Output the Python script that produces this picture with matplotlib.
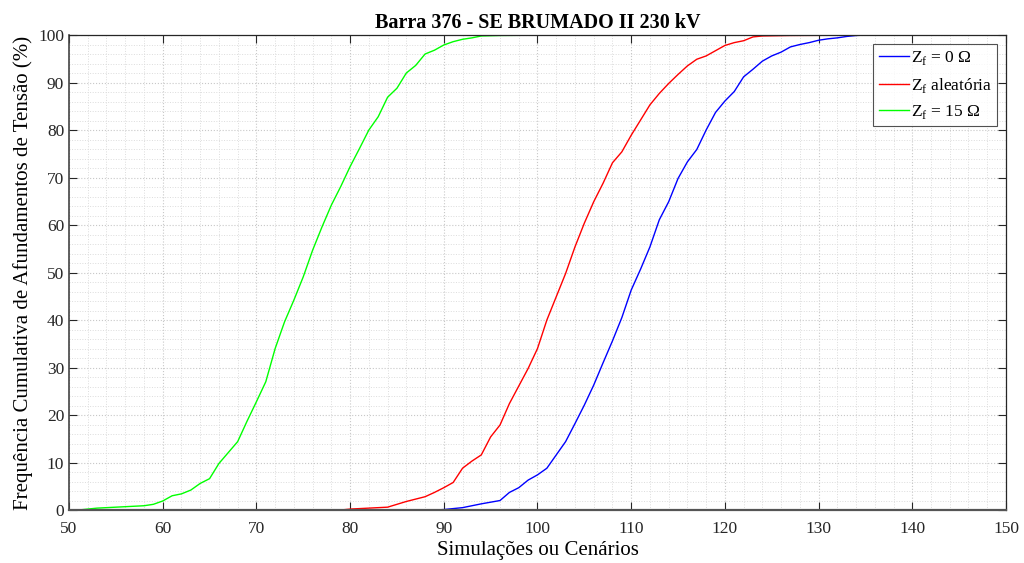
import numpy as np
import matplotlib
matplotlib.use('Agg')
import matplotlib.pyplot as plt
from matplotlib.ticker import MultipleLocator

plt.rcParams['font.family'] = ['Liberation Serif', 'DejaVu Serif']
plt.rcParams['mathtext.fontset'] = 'custom'
plt.rcParams['mathtext.rm'] = 'Liberation Serif'

# curve values (x = scenarios, y = cumulative %)
x_zf0 = [89, 90, 92, 94, 96, 97, 98, 99, 100, 101, 102, 103, 104, 105, 106, 107,
         108, 109, 110, 111, 112, 113, 114, 115, 116, 117, 118, 119, 120, 121, 122,
         123, 124, 125, 126, 127, 128, 129, 130, 131, 132, 133, 134, 135, 138]
y_zf0 = [0.0, 0.1, 0.5, 1.3, 2.0, 3.7, 4.7, 6.3, 7.4, 8.8, 11.6, 14.4, 18.2, 22.1, 26.3, 31.0,
         35.6, 40.5, 46.3, 50.7, 55.4, 61.1, 64.9, 69.8, 73.3, 75.9, 80.0, 83.7, 86.1, 88.1, 91.2,
         92.8, 94.5, 95.6, 96.4, 97.5, 98.0, 98.4, 98.9, 99.2, 99.4, 99.7, 99.9, 100.0, 100.0]

x_zfa = [79, 80, 84, 86, 88, 89, 90, 91, 92, 93, 94, 95, 96, 97, 98, 99, 100,
         101, 102, 103, 104, 105, 106, 107, 108, 109, 110, 111, 112, 113, 114, 115,
         116, 117, 118, 119, 120, 121, 122, 123, 124, 127, 138]
y_zfa = [0.0, 0.2, 0.6, 1.8, 2.8, 3.7, 4.7, 5.8, 8.8, 10.3, 11.6, 15.4, 17.9, 22.4, 26.1, 29.8, 34.0,
         40.0, 44.9, 49.8, 55.4, 60.4, 64.9, 68.8, 73.1, 75.4, 78.9, 82.1, 85.3, 87.7, 89.8, 91.7,
         93.5, 94.9, 95.6, 96.7, 97.8, 98.4, 98.8, 99.6, 99.8, 99.9, 100.0]

x_zf15 = [51, 52, 53, 54, 55, 56, 57, 58, 59, 60, 61, 62, 63, 64, 65, 66, 67, 68,
          69, 70, 71, 72, 73, 74, 75, 76, 77, 78, 79, 80, 81, 82, 83, 84, 85, 86,
          87, 88, 89, 90, 91, 92, 93, 94, 96, 102]
y_zf15 = [0.0, 0.2, 0.4, 0.5, 0.6, 0.7, 0.8, 0.9, 1.2, 1.9, 3.0, 3.4, 4.2, 5.6, 6.6, 9.8, 12.1, 14.4,
          18.7, 22.8, 27.0, 34.0, 39.6, 44.2, 49.1, 54.7, 59.6, 64.2, 68.1, 72.3, 76.1, 80.0, 82.8,
          86.9, 88.8, 92.0, 93.6, 96.0, 96.8, 97.9, 98.6, 99.1, 99.4, 99.8, 99.9, 100.0]

labels = [r'Z$_\mathregular{f}$ = 0 Ω', r'Z$_\mathregular{f}$ aleatória', r'Z$_\mathregular{f}$ = 15 Ω']

fig = plt.figure(figsize=(10.24, 5.63), dpi=100)
ax = fig.add_axes([0.0674, 0.0941, 0.915, 0.8437])

ax.plot(x_zf0, y_zf0, color='#0000ff', lw=1.0, label=labels[0])
ax.plot(x_zfa, y_zfa, color='#ff0000', lw=1.0, label=labels[1])
ax.plot(x_zf15, y_zf15, color='#00ff00', lw=1.0, label=labels[2])

ax.set_xlim(50, 150)
ax.set_ylim(0, 100)
ax.xaxis.set_major_locator(MultipleLocator(10))
ax.yaxis.set_major_locator(MultipleLocator(10))
ax.xaxis.set_minor_locator(MultipleLocator(2))
ax.yaxis.set_minor_locator(MultipleLocator(2))

ax.grid(which='major', color='#c8c8c8', linestyle=':', linewidth=0.8)
ax.grid(which='minor', color='#dcdcdc', linestyle=':', linewidth=0.7)
ax.set_axisbelow(True)

ax.tick_params(which='major', direction='in', length=6, width=0.8, top=True, right=True,
               labelsize=12.5, colors='#262626')
ax.tick_params(axis='x', which='major', pad=8)
ax.tick_params(which='minor', length=0, top=True, right=True)
for sp in ax.spines.values():
    sp.set_color('#262626')
    sp.set_linewidth(0.9)
ax.spines['bottom'].set_color('#555555')
ax.spines['bottom'].set_linewidth(1.6)
ax.spines['left'].set_color('#444444')
ax.spines['left'].set_linewidth(1.2)

ax.set_title('Barra 376 - SE BRUMADO II 230 kV', fontsize=14.5, fontweight='bold', pad=5)
ax.set_xlabel('Simulações ou Cenários', fontsize=15, labelpad=3)
ax.set_ylabel('Frequência Cumulativa de Afundamentos de Tensão (%)', fontsize=15, labelpad=4)

leg = ax.legend(loc='upper right', fontsize=12.5, frameon=True, fancybox=False,
                edgecolor='#262626', handlelength=1.75, handletextpad=0.1,
                borderaxespad=0.5, labelspacing=0.5, borderpad=0.3)
leg.get_frame().set_linewidth(0.8)

fig.savefig('out.png', dpi=100)
